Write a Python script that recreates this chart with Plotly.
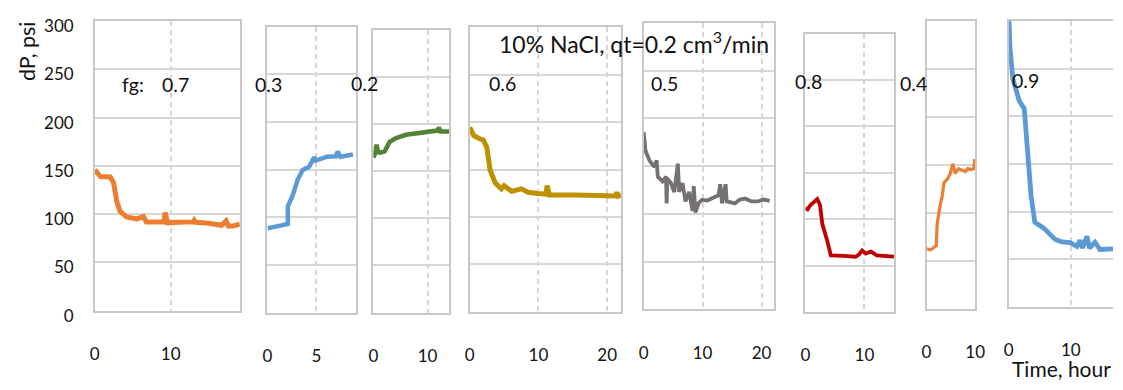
import plotly.graph_objects as go

# ---------------- data ----------------
fg_labels = ["0.7", "0.3", "0.2", "0.6", "0.5", "0.8", "0.4", "0.9"]

t_07 = [0, 0.74, 2.04, 2.47, 2.9, 3.33, 4.2, 5.5, 6.4, 6.8, 8.5, 9.1, 9.26, 9.45, 9.6, 11.0, 13.0, 13.1, 13.3, 15.0, 16.7, 17.3, 17.6, 18.3, 19.1]
dp_07 = [146, 139, 138.5, 132.7, 113, 103, 97, 95, 97.5, 92, 92, 92, 101.6, 92, 91, 91.5, 92, 93.5, 91.5, 90.5, 88.5, 93, 87.5, 88, 89.6]

t_03 = [0, 1.0, 1.91, 2.08, 2.08, 2.58, 3.09, 3.6, 4.26, 4.77, 4.94, 6.1, 7.0, 7.18, 7.45, 8.0, 8.73]
dp_03 = [88.4, 90.5, 93.4, 93, 111.6, 123, 139.7, 149.7, 153, 163, 159.6, 163.6, 164, 169, 163.6, 164.5, 166]

t_02 = [0, 0.3, 0.6, 0.9, 1.2, 2.1, 3.0, 4.2, 6.0, 7.9, 10.3, 11.8, 12.1, 12.4, 12.7, 14.0]
dp_02 = [164.5, 168, 178, 170, 169.5, 171, 181, 185, 188.5, 190, 193, 193, 196, 192, 192, 192]

t_06 = [0, 0.57, 1.29, 2.0, 2.5, 2.97, 3.7, 4.6, 5.0, 5.36, 5.7, 6.1, 7.5, 8.5, 9.9, 11.1, 11.25, 11.5, 11.6, 15.2, 19.5, 21.2, 21.4, 21.6, 22.0]
dp_06 = [194.5, 186, 183, 181, 173, 149.5, 136, 129.6, 133, 131, 128, 127, 129.6, 126, 124.6, 124, 133, 124, 123, 123, 123, 122, 126, 122, 123]

t_05 = [0, 0.33, 1.0, 1.84, 2.2, 2.4, 3.2, 3.8, 3.9, 4.0, 4.6, 5.2, 5.8, 6.03, 6.6, 7.1, 7.7, 8.3, 8.5, 8.8, 9.3, 9.9, 10.8, 11.6, 12.7, 13.0, 13.3, 13.9, 14.1, 15.5, 16.3, 17.2, 18.3, 19.4, 20.3, 21.4]
dp_05 = [185.5, 165.7, 155.8, 149, 156, 139, 134, 139, 111, 137, 132.7, 122.8, 152.5, 123, 132, 113, 123, 103, 129, 101.4, 111, 114.6, 114, 116, 119.5, 131, 111, 131, 113, 111, 115, 116, 113, 113, 115, 113.5]

t_08 = [0, 0.35, 0.9, 1.75, 2.0, 2.46, 2.85, 3.7, 4.3, 6.5, 8.5, 9.1, 9.6, 10.2, 11.1, 12.1, 15.0]
dp_08 = [112, 110.5, 115.6, 120.7, 121.6, 115.6, 95, 76.5, 61, 60.5, 59.5, 62, 66.3, 63, 65, 61, 59.5]

t_04 = [0, 0.87, 2.0, 2.2, 2.7, 3.24, 3.6, 4.26, 4.9, 5.4, 5.9, 6.6, 8.0, 8.5, 9.2, 9.7, 9.9, 10.0]
dp_04 = [62.4, 61.5, 65.8, 88.8, 105, 118, 131.5, 134.8, 141, 151, 141, 146, 143, 146, 145, 146, 156, 151]

t_09 = [0, 0.19, 0.66, 1.2, 1.7, 2.5, 3.0, 3.6, 4.2, 5.7, 6.7, 7.5, 8.6, 9.9, 11.0, 11.5, 11.9, 12.6, 13.0, 13.9, 14.7, 16.8]
dp_09 = [310, 272.5, 239.5, 226, 216, 208, 167, 117, 89, 82.5, 76, 71, 68.4, 67.7, 63.7, 70, 62, 74.3, 62, 68, 60.4, 61]

series_t = [t_07, t_03, t_02, t_06, t_05, t_08, t_04, t_09]
series_dp = [dp_07, dp_03, dp_02, dp_06, dp_05, dp_08, dp_04, dp_09]
x_max = [19.1, 9.0, 14.0, 22.0, 22.1, 15.0, 10.0, 16.8]
x_dtick = [10, 5, 10, 10, 10, 10, 10, 10]
y_ticks = [0, 50, 100, 150, 200, 250, 300]

# ---------------- layout / style ----------------
W, H = 1123, 390
# panel boxes in pixels: left, right, top, bottom
boxes = [
    (91, 238, 16, 322),
    (266, 355.3, 22, 324),
    (373.3, 450.3, 25, 324),
    (471, 624.3, 22.7, 323),
    (647.3, 779.3, 17.7, 320.7),
    (811.3, 901, 29.3, 323.3),
    (934, 983.3, 15.7, 320),
    (1017.3, 1123, 15.7, 318.3),
]
colors = ["#ED7D31", "#5B9BD5", "#548235", "#BF9000", "#767171", "#C00000", "#ED7D31", "#5B9BD5"]
widths = [5, 4.5, 4.5, 5, 3.8, 3.8, 3.2, 4.8]
# fg label centres (px)
label_pos = [(172.5, 83), (267, 82.5), (364, 82), (504, 82), (668, 82), (814.5, 79.5), (921, 82), (1034.5, 79)]

FONT = "Lato"
GRID = "#d6d6d6"
LINE = "#c8c8c8"
TXT = "#111111"

fig = go.Figure()
layout = dict(
    width=W, height=H, margin=dict(l=0, r=0, t=0, b=0),
    paper_bgcolor="white", plot_bgcolor="white", showlegend=False,
    font=dict(family=FONT, size=17, color=TXT),
)

for i in range(8):
    l, r, t, b = boxes[i]
    xa = "xaxis" if i == 0 else f"xaxis{i+1}"
    ya = "yaxis" if i == 0 else f"yaxis{i+1}"
    xr = "x" if i == 0 else f"x{i+1}"
    yr = "y" if i == 0 else f"y{i+1}"
    fig.add_trace(go.Scatter(
        x=series_t[i], y=series_dp[i], mode="lines", xaxis=xr, yaxis=yr,
        line=dict(color=colors[i], width=widths[i]), hoverinfo="skip",
    ))
    layout[xa] = dict(
        domain=[l / W, min(r / W, 1.0)], anchor=yr, range=[0, x_max[i]],
        dtick=x_dtick[i], tick0=0, showgrid=True, gridcolor=GRID, griddash="5px,4px",
        gridwidth=1.5, zeroline=False, showline=True, linecolor=LINE, linewidth=1.5,
        mirror=True, ticks="", ticklabelstandoff=27, fixedrange=True,
        tickfont=dict(size=17, family=FONT, color=TXT),
    )
    layout[ya] = dict(
        domain=[(H - b) / H, (H - t) / H], anchor=xr, range=[0, 300],
        tickvals=y_ticks, showgrid=True, gridcolor=GRID, gridwidth=1.5,
        zeroline=False, showline=True, linecolor=LINE, linewidth=1.5,
        mirror=(i != 7), ticks="", showticklabels=(i == 0),
        ticklabelstandoff=16, ticklabelshift=5, fixedrange=True,
        tickfont=dict(size=17, family=FONT, color=TXT),
    )

annotations = []
for i, lab in enumerate(fg_labels):
    cx, cy = label_pos[i]
    annotations.append(dict(text=lab, x=cx / W, y=(H - cy) / H, xref="paper", yref="paper",
                            xanchor="center", yanchor="middle", showarrow=False,
                            font=dict(size=19.5, family=FONT, color=TXT)))
annotations.append(dict(text="fg:", x=130 / W, y=(H - 83) / H, xref="paper", yref="paper",
                        xanchor="center", yanchor="middle", showarrow=False,
                        font=dict(size=19.5, family=FONT, color=TXT)))
annotations.append(dict(text="10% NaCl, qt=0.2 cm<sup>3</sup>/min", x=637.5 / W, y=(H - 39) / H,
                        xref="paper", yref="paper", xanchor="center", yanchor="middle",
                        showarrow=False, font=dict(size=23, family=FONT, color=TXT)))
annotations.append(dict(text="dP, psi", x=23 / W, y=(H - 48) / H, xref="paper", yref="paper",
                        xanchor="center", yanchor="middle", textangle=-90, showarrow=False,
                        font=dict(size=21.5, family=FONT, color=TXT)))
annotations.append(dict(text="Time, hour", x=1071 / W, y=(H - 388) / H, xref="paper", yref="paper",
                        xanchor="center", yanchor="bottom", showarrow=False, borderpad=0,
                        yshift=-9, font=dict(size=21, family=FONT, color=TXT)))
layout["annotations"] = annotations

fig.update_layout(**layout)
fig.write_html("out.html")
